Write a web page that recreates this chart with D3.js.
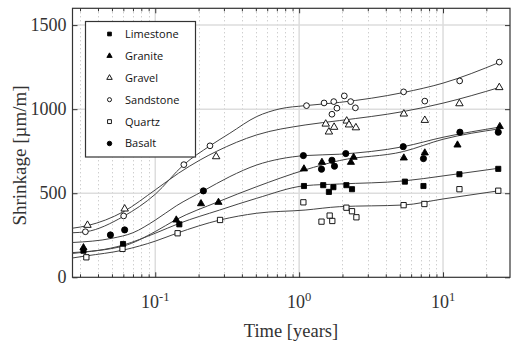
<!DOCTYPE html>
<html><head><meta charset="utf-8">
<script src="https://cdn.jsdelivr.net/npm/d3@7"></script>
<style>body{margin:0;background:#fff}svg{display:block}</style>
</head><body><svg id="c" width="511" height="344"></svg>
<script>
// ---- data ----
const seriesNames = ["Limestone","Granite","Gravel","Sandstone","Quartz","Basalt"];

const limestonePts = [[0.0317,158],[0.0597,198],[0.147,315],[1.08,543],[1.47,548],[1.61,508],[1.73,536],[2.13,548],[2.33,524],[5.43,569],[7.31,543],[13.0,613],[24.2,645]];
const granitePts   = [[0.0317,176],[0.140,341],[0.208,438],[0.275,446],[1.08,645],[1.44,684],[2.29,684],[2.39,714],[5.34,710],[7.47,740],[12.6,787],[24.8,897]];
const gravelPts    = [[0.0338,310],[0.0613,407],[0.265,718],[1.53,912],[1.61,865],[1.75,893],[2.14,930],[2.22,907],[2.48,890],[5.34,972],[7.47,934],[13.0,1033],[24.6,1129]];
const sandstonePts = [[0.0327,271],[0.0603,365],[0.158,670],[0.240,782],[1.125,1021],[1.49,1037],[1.74,1045],[1.69,970],[1.83,1006],[2.06,1079],[2.28,1045],[2.46,1008],[5.32,1103],[7.47,1048],[13.05,1168],[24.6,1280]];
const quartzPts    = [[0.0332,119],[0.0592,169],[0.143,262],[0.282,341],[1.07,446],[1.43,331],[1.63,367],[1.70,335],[2.13,414],[2.33,393],[2.50,357],[5.32,429],[7.42,436],[13.0,524],[24.2,515]];
const basaltPts    = [[0.0488,252],[0.0613,282],[0.216,514],[1.07,724],[1.43,643],[1.69,696],[1.76,661],[2.11,736],[5.29,777],[7.31,706],[13.1,863],[24.2,863]];

const limestoneFit = [[0.0266,142],[0.06,192],[0.1,262],[0.147,321],[0.28,400],[0.507,470],[1.1,545],[1.9,555],[5.3,573],[10,603],[24.6,649]];
const graniteFit   = [[0.0266,147],[0.06,186],[0.1,272],[0.138,341],[0.275,450],[0.507,539],[1.1,639],[1.9,694],[5.3,748],[10,821],[24.6,883]];
const gravelFit    = [[0.0266,292],[0.034,308],[0.06,390],[0.1,520],[0.145,619],[0.205,698],[0.265,748],[0.507,847],[1.1,906],[1.9,932],[5.3,986],[10,1036],[24.6,1129]];
const sandstoneFit = [[0.0266,265],[0.033,271],[0.06,362],[0.1,494],[0.157,668],[0.24,782],[0.33,857],[0.507,956],[0.735,1002],[1.1,1021],[1.9,1040],[5.3,1099],[10,1155],[24.6,1278]];
const quartzFit    = [[0.0266,115],[0.033,127],[0.06,162],[0.1,215],[0.141,262],[0.282,341],[0.507,381],[1.1,400],[1.9,420],[5.3,430],[10,466],[24.6,515]];
const basaltFit    = [[0.0266,207],[0.05,232],[0.07,265],[0.1,340],[0.14,425],[0.216,514],[0.33,599],[0.507,668],[0.735,704],[1.1,724],[1.9,732],[5.3,777],[10,833],[24.6,893]];

const xMajorTicks = [0.1, 1, 10];
const xMajorExp = ["-1", "0", "1"];
const xMinorTicks = [0.03,0.04,0.05,0.06,0.07,0.08,0.09,0.2,0.3,0.4,0.5,0.6,0.7,0.8,0.9,2,3,4,5,6,7,8,9,20];
const yTicks = [0, 500, 1000, 1500];
const xTitle = "Time [years]";
const yTitle = "Shrinkage [\u00b5m/m]";

// ---- layout ----
const L = 72.5, R = 510, T = 8.3, B = 277.3;
const svg = d3.select("#c");
const x = d3.scaleLog().domain([0.0266, 29.2]).range([L, R]);
const y = d3.scaleLinear().domain([0, 1600]).range([B, T]);

// grid
const grid = svg.append("g");
grid.selectAll(".vmin").data(xMinorTicks).join("line")
  .attr("x1", d => Math.round(x(d)) + 0.5).attr("x2", d => Math.round(x(d)) + 0.5)
  .attr("y1", T).attr("y2", B)
  .attr("stroke", "#bbb").attr("stroke-width", 1).attr("stroke-dasharray", "1,3");
grid.selectAll(".vmaj").data(xMajorTicks).join("line")
  .attr("x1", d => x(d)).attr("x2", d => x(d))
  .attr("y1", T).attr("y2", B)
  .attr("stroke", "#ddd").attr("stroke-width", 1.5);
grid.selectAll(".hmaj").data(yTicks.filter(d => d > 0)).join("line")
  .attr("x1", L).attr("x2", R)
  .attr("y1", d => y(d)).attr("y2", d => y(d))
  .attr("stroke", "#ddd").attr("stroke-width", 1.5);

// axes (inward ticks)
function styleAxis(g) {
  g.select(".domain").remove();
  g.selectAll("line").attr("stroke", "#333");
  g.selectAll("text").remove();
}
svg.append("g").attr("transform", `translate(0,${B})`)
  .call(d3.axisBottom(x).tickValues(xMajorTicks).tickSize(-5).tickFormat("")).call(styleAxis);
svg.append("g").attr("transform", `translate(0,${B})`)
  .call(d3.axisBottom(x).tickValues(xMinorTicks).tickSize(-3).tickFormat("")).call(styleAxis);
svg.append("g").attr("transform", `translate(0,${T})`)
  .call(d3.axisTop(x).tickValues(xMajorTicks).tickSize(-5).tickFormat("")).call(styleAxis);
svg.append("g").attr("transform", `translate(0,${T})`)
  .call(d3.axisTop(x).tickValues(xMinorTicks).tickSize(-3).tickFormat("")).call(styleAxis);
svg.append("g").attr("transform", `translate(${L},0)`)
  .call(d3.axisLeft(y).tickValues(yTicks).tickSize(-5).tickFormat("")).call(styleAxis);
svg.append("g").attr("transform", `translate(${R},0)`)
  .call(d3.axisRight(y).tickValues(yTicks).tickSize(-5).tickFormat("")).call(styleAxis);

// frame
svg.append("rect").attr("x", L).attr("y", T).attr("width", R - L).attr("height", B - T)
  .attr("fill", "none").attr("stroke", "#333").attr("stroke-width", 1.2);

// tick labels
svg.append("g").selectAll("text").data(yTicks).join("text")
  .attr("x", L - 6).attr("y", d => y(d)).attr("dy", "0.34em")
  .attr("text-anchor", "end").attr("font-family", "Liberation Serif, serif")
  .attr("font-size", 18).attr("fill", "#333").text(d => d);

const xl = svg.append("g").selectAll("text").data(xMajorTicks).join("text")
  .attr("x", d => x(d)).attr("y", 307.5)
  .attr("text-anchor", "middle").attr("font-family", "Liberation Serif, serif")
  .attr("font-size", 18).attr("fill", "#333");
xl.append("tspan").text("10");
xl.append("tspan").attr("dy", -7).attr("font-size", 12.5).text((d, i) => xMajorExp[i]);

// titles
svg.append("text").attr("x", 291).attr("y", 337).attr("text-anchor", "middle")
  .attr("font-family", "Liberation Serif, serif").attr("font-size", 18.5).attr("fill", "#333").text(xTitle);
svg.append("text").attr("transform", "translate(25.5,155.5) rotate(-90)").attr("text-anchor", "middle")
  .attr("font-family", "Liberation Serif, serif").attr("font-size", 19).attr("fill", "#333").text(yTitle);

// fitted curves
const fits = [limestoneFit, graniteFit, gravelFit, sandstoneFit, quartzFit, basaltFit];
const line = d3.line().x(d => x(d[0])).y(d => y(d[1])).curve(d3.curveMonotoneX);
svg.append("g").selectAll("path").data(fits).join("path")
  .attr("d", line).attr("fill", "none").attr("stroke", "#444").attr("stroke-width", 1);

// markers
const styles = {
  Limestone: {type: d3.symbolSquare, fill: "#000", size: 26, lsize: 14},
  Granite:   {type: d3.symbolTriangle, fill: "#000", size: 22, lsize: 12},
  Gravel:    {type: d3.symbolTriangle, fill: "#fff", size: 24, lsize: 13},
  Sandstone: {type: d3.symbolCircle, fill: "#fff", size: 26, lsize: 13},
  Quartz:    {type: d3.symbolSquare, fill: "#fff", size: 28, lsize: 15},
  Basalt:    {type: d3.symbolCircle, fill: "#000", size: 30, lsize: 16}
};
const pts = [limestonePts, granitePts, gravelPts, sandstonePts, quartzPts, basaltPts];
seriesNames.forEach((name, i) => {
  const s = styles[name];
  svg.append("g").selectAll("path").data(pts[i]).join("path")
    .attr("transform", d => `translate(${x(d[0])},${y(d[1])})`)
    .attr("d", d3.symbol().type(s.type).size(s.size))
    .attr("fill", s.fill).attr("stroke", "#000").attr("stroke-width", 0.9);
});

// legend
const lg = svg.append("g");
lg.append("rect").attr("x", 85.5).attr("y", 21.5).attr("width", 110).attr("height", 135.5)
  .attr("fill", "#fff").attr("stroke", "#333").attr("stroke-width", 1.2);
seriesNames.forEach((name, i) => {
  const s = styles[name];
  const yy = 34 + i * 21.9;
  lg.append("path").attr("transform", `translate(109.5,${yy})`)
    .attr("d", d3.symbol().type(s.type).size(s.lsize))
    .attr("fill", s.fill).attr("stroke", "#000").attr("stroke-width", 0.9);
  lg.append("text").attr("x", 125).attr("y", yy).attr("dy", "0.36em")
    .attr("font-family", "Open Sans, sans-serif").attr("font-size", 11).attr("fill", "#111").text(name);
});
</script>
</body></html>
